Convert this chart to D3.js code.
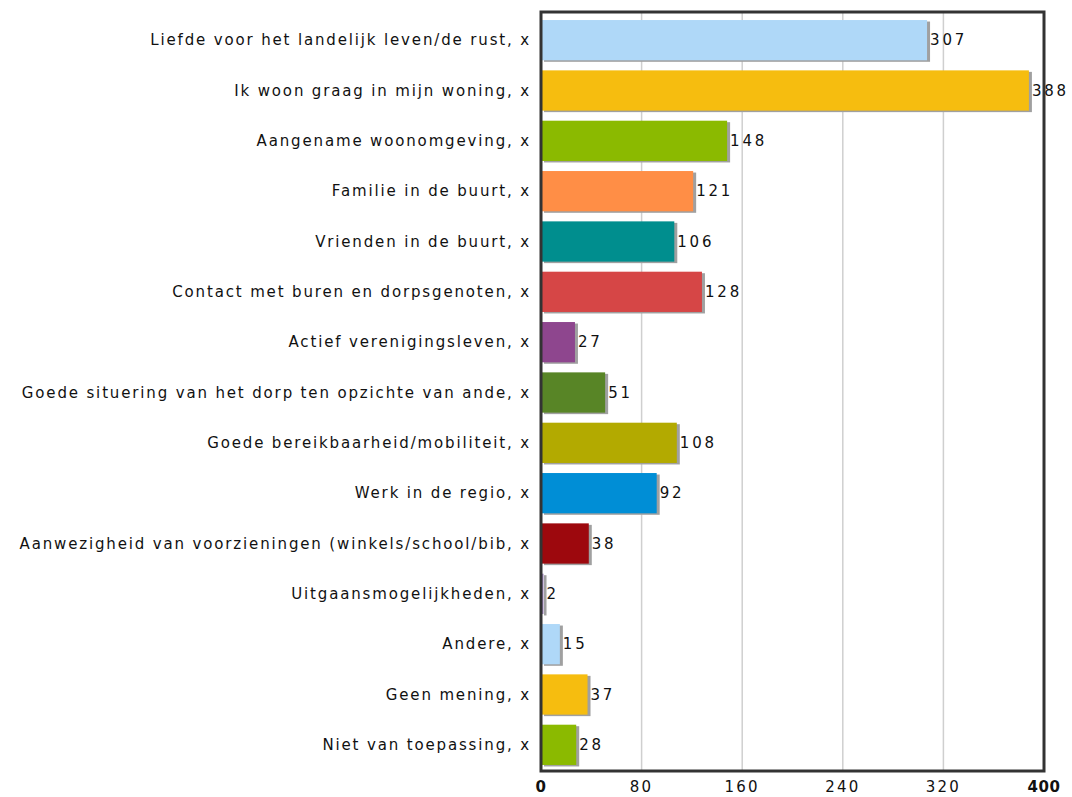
<!DOCTYPE html>
<html lang="nl">
<head>
  <meta charset="UTF-8">
  <title>Redenen om in het dorp te wonen</title>
  <script src="https://d3js.org/d3.v7.min.js"></script>
  <style>
    html, body {
      margin: 0;
      padding: 0;
      background: #fff;
    }
    .label {
      font: 15px "DejaVu Sans", Verdana, sans-serif;
      letter-spacing: 1.85px;
      fill: #111;
    }
    .value {
      font: 15px "DejaVu Sans", Verdana, sans-serif;
      letter-spacing: 2.8px;
      fill: #111;
    }
    .tick-label {
      font: 15px "DejaVu Sans", Verdana, sans-serif;
      letter-spacing: 2.2px;
      fill: #111;
    }
    .tick-label.edge {
      font-weight: bold;
      letter-spacing: 0.5px;
    }
  </style>
</head>
<body>
<svg id="chart" width="1072" height="797"></svg>

<script>
const categories = [
  "Liefde voor het landelijk leven/de rust, x",
  "Ik woon graag in mijn woning, x",
  "Aangename woonomgeving, x",
  "Familie in de buurt, x",
  "Vrienden in de buurt, x",
  "Contact met buren en dorpsgenoten, x",
  "Actief verenigingsleven, x",
  "Goede situering van het dorp ten opzichte van ande, x",
  "Goede bereikbaarheid/mobiliteit, x",
  "Werk in de regio, x",
  "Aanwezigheid van voorzieningen (winkels/school/bib, x",
  "Uitgaansmogelijkheden, x",
  "Andere, x",
  "Geen mening, x",
  "Niet van toepassing, x"
];
const values = [307, 388, 148, 121, 106, 128, 27, 51, 108, 92, 38, 2, 15, 37, 28];
const palette = ["#afd8f8", "#f6bd0f", "#8bba00", "#ff8e46", "#008e8e", "#d64646",
                 "#8e468e", "#588526", "#b3aa00", "#008ed6", "#9d080d", "#a186be"];
const ticks = [0, 80, 160, 240, 320, 400];

const svg = d3.select("#chart");
const margin = {left: 541, right: 28, top: 12, bottom: 26};
const W = 1072, H = 797;

const x = d3.scaleLinear().domain([0, 400]).range([margin.left, W - margin.right]);
const y = d3.scaleBand().domain(categories)
  .range([margin.top + 3, H - margin.bottom - 1])
  .paddingInner(0.2).paddingOuter(0.1);

// gridlines
svg.append("g")
  .selectAll("line")
  .data(ticks.filter(t => t > 0 && t < 400))
  .join("line")
    .attr("x1", d => x(d)).attr("x2", d => x(d))
    .attr("y1", margin.top).attr("y2", H - margin.bottom)
    .attr("stroke", "#cfcfcf").attr("stroke-width", 1.5);

// bar shadows
svg.append("g")
  .selectAll("rect")
  .data(values)
  .join("rect")
    .attr("x", x(0) + 3)
    .attr("y", (d, i) => y(categories[i]) + 1.5)
    .attr("width", d => x(d) - x(0))
    .attr("height", y.bandwidth())
    .attr("fill", "#a0a0a0");

// bars
svg.append("g")
  .selectAll("rect")
  .data(values)
  .join("rect")
    .attr("x", x(0))
    .attr("y", (d, i) => y(categories[i]))
    .attr("width", d => x(d) - x(0))
    .attr("height", y.bandwidth())
    .attr("fill", (d, i) => palette[i % palette.length]);

// frame
svg.append("rect")
  .attr("x", margin.left)
  .attr("y", margin.top)
  .attr("width", W - margin.right - margin.left)
  .attr("height", H - margin.bottom - margin.top)
  .attr("fill", "none")
  .attr("stroke", "#333")
  .attr("stroke-width", 3);

// category labels
svg.append("g")
  .selectAll("text")
  .data(categories)
  .join("text")
    .attr("class", "label")
    .attr("x", margin.left - 10)
    .attr("y", d => y(d) + y.bandwidth() / 2)
    .attr("dy", "0.35em")
    .attr("text-anchor", "end")
    .text(d => d);

// value labels
svg.append("g")
  .selectAll("text")
  .data(values)
  .join("text")
    .attr("class", "value")
    .attr("x", d => x(d) + 3)
    .attr("y", (d, i) => y(categories[i]) + y.bandwidth() / 2)
    .attr("dy", "0.35em")
    .text(d => d);

// x axis labels (first and last are bold)
svg.append("g")
  .selectAll("text")
  .data(ticks)
  .join("text")
    .attr("class", (d, i) => (i === 0 || i === ticks.length - 1) ? "tick-label edge" : "tick-label")
    .attr("x", d => x(d))
    .attr("y", H - 5)
    .attr("text-anchor", "middle")
    .text(d => d);
</script>
</body>
</html>
